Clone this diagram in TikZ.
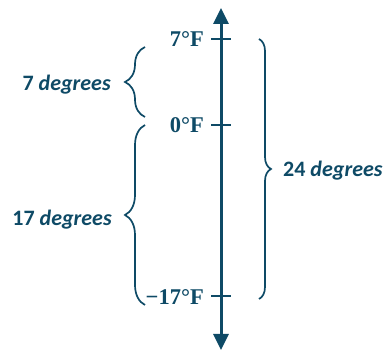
\documentclass[tikz,border=0pt]{standalone}
\usepackage{fontspec}
\setmainfont{Liberation Serif}
\newfontfamily\carl{Carlito}
\usetikzlibrary{arrows.meta,decorations.pathreplacing}
\definecolor{ink}{HTML}{0E4A66}
\begin{document}
\begin{tikzpicture}[x=1pt,y=1pt,
  tlabel/.style={anchor=east,inner sep=0pt,text=ink,font=\fontsize{22.5}{25}\selectfont\bfseries},
  dlabel/.style={inner sep=0pt,text=ink,font=\carl\fontsize{22}{26}\selectfont\bfseries},
  tickline/.style={draw=ink,line width=2pt},
  bracel/.style={draw=ink,line width=1.7pt,decorate,decoration={brace,amplitude=#1}},
]
\useasboundingbox (0,0) rectangle (384,352);
% axis
\coordinate (top) at (221,344);
\coordinate (bot) at (221,2);
\draw[ink,line width=3pt,{Triangle[length=16pt,width=15pt]}-{Triangle[length=16pt,width=15pt]}] (bot) -- (top);
% ticks
\coordinate (t7l) at (211,313); \coordinate (t7r) at (231,313);
\coordinate (t0l) at (211,227); \coordinate (t0r) at (231,227);
\coordinate (tml) at (211,56);  \coordinate (tmr) at (231,56);
\draw[tickline] (t7l) -- (t7r);
\draw[tickline] (t0l) -- (t0r);
\draw[tickline] (tml) -- (tmr);
% tick labels
\node[tlabel] (l7) at (204,313) {7°F};
\node[tlabel] (l0) at (204,227) {0°F};
\node[tlabel] (lm) at (204,54.5) {−17°F};
% braces
\coordinate (b1a) at (145,235); \coordinate (b1b) at (145,305);
\draw[bracel=20pt] (b1a) -- (b1b);
\coordinate (b2a) at (145,47); \coordinate (b2b) at (145,227);
\draw[bracel=20pt] (b2a) -- (b2b);
\coordinate (b3a) at (259,313); \coordinate (b3b) at (259,53);
\draw[bracel=12pt] (b3a) -- (b3b);
% brace labels
\node[dlabel,anchor=east] (d7) at (111,267) {7 \textit{degrees}};
\node[dlabel,anchor=east] (d17) at (112,132.5) {17 \textit{degrees}};
\node[dlabel,anchor=west] (d24) at (283,181) {24 \textit{degrees}};
\end{tikzpicture}
\end{document}
